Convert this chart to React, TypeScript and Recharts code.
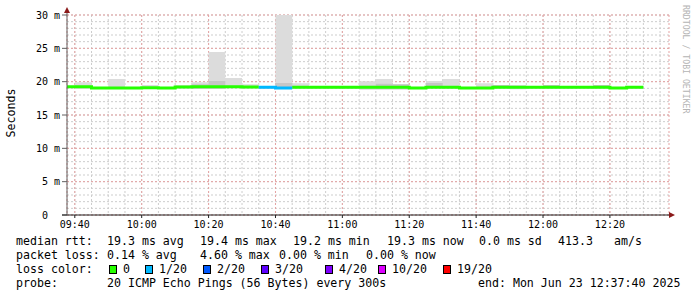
import { ComposedChart, Area, Line, XAxis, YAxis, CartesianGrid } from 'recharts'

// 5 minute steps, 09:35 is only partly inside the graph
const slots = [
  '09:35', '09:40', '09:45', '09:50', '09:55', '10:00', '10:05', '10:10', '10:15', '10:20',
  '10:25', '10:30', '10:35', '10:40', '10:45', '10:50', '10:55', '11:00', '11:05', '11:10',
  '11:15', '11:20', '11:25', '11:30', '11:35', '11:40', '11:45', '11:50', '11:55', '12:00',
  '12:05', '12:10', '12:15', '12:20', '12:25'
]
const dataEnd = '12:30'

// median rtt in ms (as drawn)
const medianRtt = [
  19.25, 19.25, 19.05, 19.05, 19.05, 19.1, 19.05, 19.2, 19.25, 19.25,
  19.25, 19.2, 19.15, 19.05, 19.15, 19.15, 19.15, 19.15, 19.15, 19.15,
  19.15, 19.05, 19.15, 19.15, 19.05, 19.05, 19.15, 19.15, 19.15, 19.15,
  19.15, 19.15, 19.15, 19.05, 19.15
]
// lost pings out of 20
const lossOf20 = [
  0, 0, 0, 0, 0, 0, 0, 0, 0, 0,
  0, 0, 1, 1, 0, 0, 0, 0, 0, 0,
  0, 0, 0, 0, 0, 0, 0, 0, 0, 0,
  0, 0, 0, 0, 0
]
// smoke: full spread of the pings
const smokeMin = [
  19.0, 18.9, 19.0, 19.0, 19.0, 19.0, 19.0, 19.0, 18.9, 18.9,
  19.0, 19.0, 19.0, 18.95, 19.0, 19.0, 19.0, 19.0, 18.8, 18.8,
  18.8, 19.0, 19.0, 19.0, 18.95, 18.95, 19.0, 18.85, 19.0, 19.0,
  19.0, 19.0, 19.0, 18.95, 19.0
]
const smokeMax = [
  19.3, 19.9, 19.2, 20.4, 19.2, 19.5, 19.2, 19.5, 19.9, 24.45,
  20.55, 19.6, 19.3, 31.0, 19.75, 19.3, 19.3, 19.3, 20.05, 20.4,
  19.6, 19.2, 20.1, 20.4, 19.2, 19.75, 19.5, 19.5, 19.3, 19.5,
  19.3, 19.3, 19.5, 19.2, 19.3
]
// darker middle part of the smoke
const coreMin = [
  19.1, 19.1, 19.0, 19.0, 19.0, 19.0, 19.0, 19.0, 18.95, 18.95,
  19.1, 19.0, 19.0, 18.95, 19.0, 19.0, 19.0, 19.0, 19.0, 18.95,
  18.95, 19.0, 19.1, 19.0, 19.0, 19.0, 19.0, 19.0, 19.0, 19.0,
  19.0, 19.0, 19.0, 19.0, 19.0
]
const coreMax = [
  19.3, 19.4, 19.2, 19.2, 19.2, 19.2, 19.2, 19.2, 19.6, 20.1,
  19.4, 19.3, 19.3, 19.8, 19.3, 19.3, 19.3, 19.3, 19.4, 19.7,
  19.6, 19.2, 19.8, 19.3, 19.2, 19.2, 19.5, 19.3, 19.3, 19.5,
  19.3, 19.3, 19.5, 19.2, 19.3
]

const timeTicks = ['09:40', '10:00', '10:20', '10:40', '11:00', '11:20', '11:40', '12:00', '12:20']
const rttTicks = [0, 5, 10, 15, 20, 25, 30]

const lossSteps = [0, 1, 2, 3, 4, 10, 19]
const lossLabels = ['0', '1/20', '2/20', '3/20', '4/20', '10/20', '19/20']
const lossColors = ['#26ff00', '#00b8ff', '#0059ff', '#5e00ff', '#7e00ff', '#dd00ff', '#ff0000']

const rttLine = ['median rtt:', '19.3 ms avg', '19.4 ms max', '19.2 ms min', '19.3 ms now', '0.0 ms sd', '413.3', 'am/s']
const lossLine = ['packet loss:', '0.14 % avg', '4.60 % max', '0.00 % min', '0.00 % now']
const probeLine = ['probe:', '20 ICMP Echo Pings (56 Bytes) every 300s', 'end: Mon Jun 23 12:37:40 2025']
const lossTitle = 'loss color:'

const toMinutes = (s: string) => {
  const [h, m] = s.split(':').map(Number)
  return h * 60 + m
}
const fmtTime = (v: number) => {
  const h = Math.floor(v / 60)
  const m = Math.round(v - h * 60)
  return `${String(h).padStart(2, '0')}:${String(m).padStart(2, '0')}`
}

const START = toMinutes('09:37') + 40 / 60
const END = START + 180
const RTT_MAX = 30

const rows: Record<string, any>[] = slots.map((s, i) => ({
  t: toMinutes(s),
  smoke: [smokeMin[i], smokeMax[i]],
  core: [coreMin[i], coreMax[i]]
}))
// closing point so the last step gets its width
rows.push({ t: toMinutes(dataEnd), smoke: rows[rows.length - 1].smoke, core: rows[rows.length - 1].core })
rows.forEach((row, i) => {
  lossSteps.forEach((k) => {
    const here = i < medianRtt.length && lossOf20[i] === k
    const prev = i > 0 && lossOf20[i - 1] === k
    row[`loss${k}`] = here ? medianRtt[i] : prev ? medianRtt[i - 1] : null
  })
})

// grid spacing: 5 minutes / 1 ms
const minorTimes = Array.from({ length: 36 }, (_, i) => toMinutes('09:40') + i * 5)
const minorRtt = Array.from({ length: 31 }, (_, i) => i)

// use the axis scale when the grid generator hands one over, else map linearly
const scaleOf = (axis: any, v: number, fallback: number) => {
  const s = axis?.scale
  if (typeof s === 'function') return s(v)
  if (s && typeof s.map === 'function') return s.map(v)
  return fallback
}

const MONO = '"DejaVu Sans Mono", monospace'

const RttTick = ({ x, y, payload }: any) => (
  <text
    x={x}
    y={y}
    dx={payload.value === 0 ? -12 : 0}
    dy="0.36em"
    textAnchor="end"
    fontFamily={MONO}
    fontSize={10}
    fill="#000"
  >
    {payload.value === 0 ? '0' : `${payload.value} m`}
  </text>
)

const App = () => {
  const rttCols = [16, 107, 200, 293, 387, 479, 558, 614]
  const lossCols = [16, 107, 200, 279, 366]
  const probeCols = [16, 107, 478]
  const boxCols = [109, 145, 203, 261, 325, 378, 443]

  return (
    <div style={{ position: 'absolute', left: 0, top: 0, width: 697, height: 297, background: '#fff' }}>
      <ComposedChart
        width={697}
        height={240}
        data={rows}
        margin={{ top: 15, right: 28, left: 0, bottom: 0 }}
      >
        <CartesianGrid
          stroke="#cdcdcd"
          strokeDasharray="2 2"
          horizontalCoordinatesGenerator={({ yAxis, offset }: any) =>
            minorRtt.map((v) =>
              scaleOf(yAxis, v, offset.top + (offset.height * (RTT_MAX - v)) / RTT_MAX)
            )
          }
          verticalCoordinatesGenerator={({ xAxis, offset }: any) =>
            minorTimes.map((v) =>
              scaleOf(xAxis, v, offset.left + (offset.width * (v - START)) / (END - START))
            )
          }
        />
        <CartesianGrid stroke="#e6a3a3" strokeDasharray="2 2" />
        <XAxis
          type="number"
          dataKey="t"
          domain={[START, END]}
          ticks={timeTicks.map(toMinutes)}
          tickFormatter={fmtTime}
          allowDataOverflow
          height={25}
          tickSize={3}
          tickMargin={3}
          stroke="#202020"
          tick={{ fontFamily: MONO, fontSize: 10, fill: '#000' }}
        />
        <YAxis
          type="number"
          domain={[0, RTT_MAX]}
          ticks={rttTicks}
          allowDataOverflow
          width={67}
          tickSize={5}
          tickMargin={2}
          stroke="#606060"
          tick={<RttTick />}
        />
        <Area
          dataKey="smoke"
          type="stepAfter"
          stroke="none"
          fill="#dcdcdc"
          fillOpacity={1}
          isAnimationActive={false}
        />
        <Area
          dataKey="core"
          type="stepAfter"
          stroke="none"
          fill="#c6c6c6"
          fillOpacity={1}
          isAnimationActive={false}
        />
        {lossSteps.map((k, i) => (
          <Line
            key={k}
            dataKey={`loss${k}`}
            type="stepAfter"
            stroke={lossColors[i]}
            strokeWidth={3}
            dot={false}
            activeDot={false}
            connectNulls={false}
            isAnimationActive={false}
          />
        ))}
      </ComposedChart>

      <svg
        width={697}
        height={297}
        style={{ position: 'absolute', left: 0, top: 0, pointerEvents: 'none' }}
        fontFamily={MONO}
      >
        {/* axis arrows */}
        <line x1={67} y1={15} x2={67} y2={11} stroke="#606060" />
        <line x1={62} y1={215} x2={67} y2={215} stroke="#202020" />
        <polygon points="64,13 70,13 67,7" fill="#8b1a1a" />
        <polygon points="669,212 669,218 675,215" fill="#8b1a1a" />

        <text x={15} y={113} transform="rotate(-90 15 113)" textAnchor="middle" fontSize={11.6} fill="#000">
          Seconds
        </text>
        <text x={683} y={5} transform="rotate(90 683 5)" fontSize={8.2} fill="#b4b4b4">
          RRDTOOL / TOBI OETIKER
        </text>

        {rttLine.map((s, i) => (
          <text key={s} x={rttCols[i]} y={245} fontSize={11.6} fill="#000">{s}</text>
        ))}
        {lossLine.map((s, i) => (
          <text key={s} x={lossCols[i]} y={259} fontSize={11.6} fill="#000">{s}</text>
        ))}
        <text x={16} y={273} fontSize={11.6} fill="#000">{lossTitle}</text>
        {lossLabels.map((s, i) => (
          <g key={s}>
            <rect x={boxCols[i] + 0.5} y={265.5} width={7} height={8} fill={lossColors[i]} stroke="#000" />
            <text x={boxCols[i] + 14} y={273} fontSize={11.6} fill="#000">{s}</text>
          </g>
        ))}
        {probeLine.map((s, i) => (
          <text key={s} x={probeCols[i]} y={287} fontSize={11.6} fill="#000">{s}</text>
        ))}
      </svg>
    </div>
  )
}

export default App
